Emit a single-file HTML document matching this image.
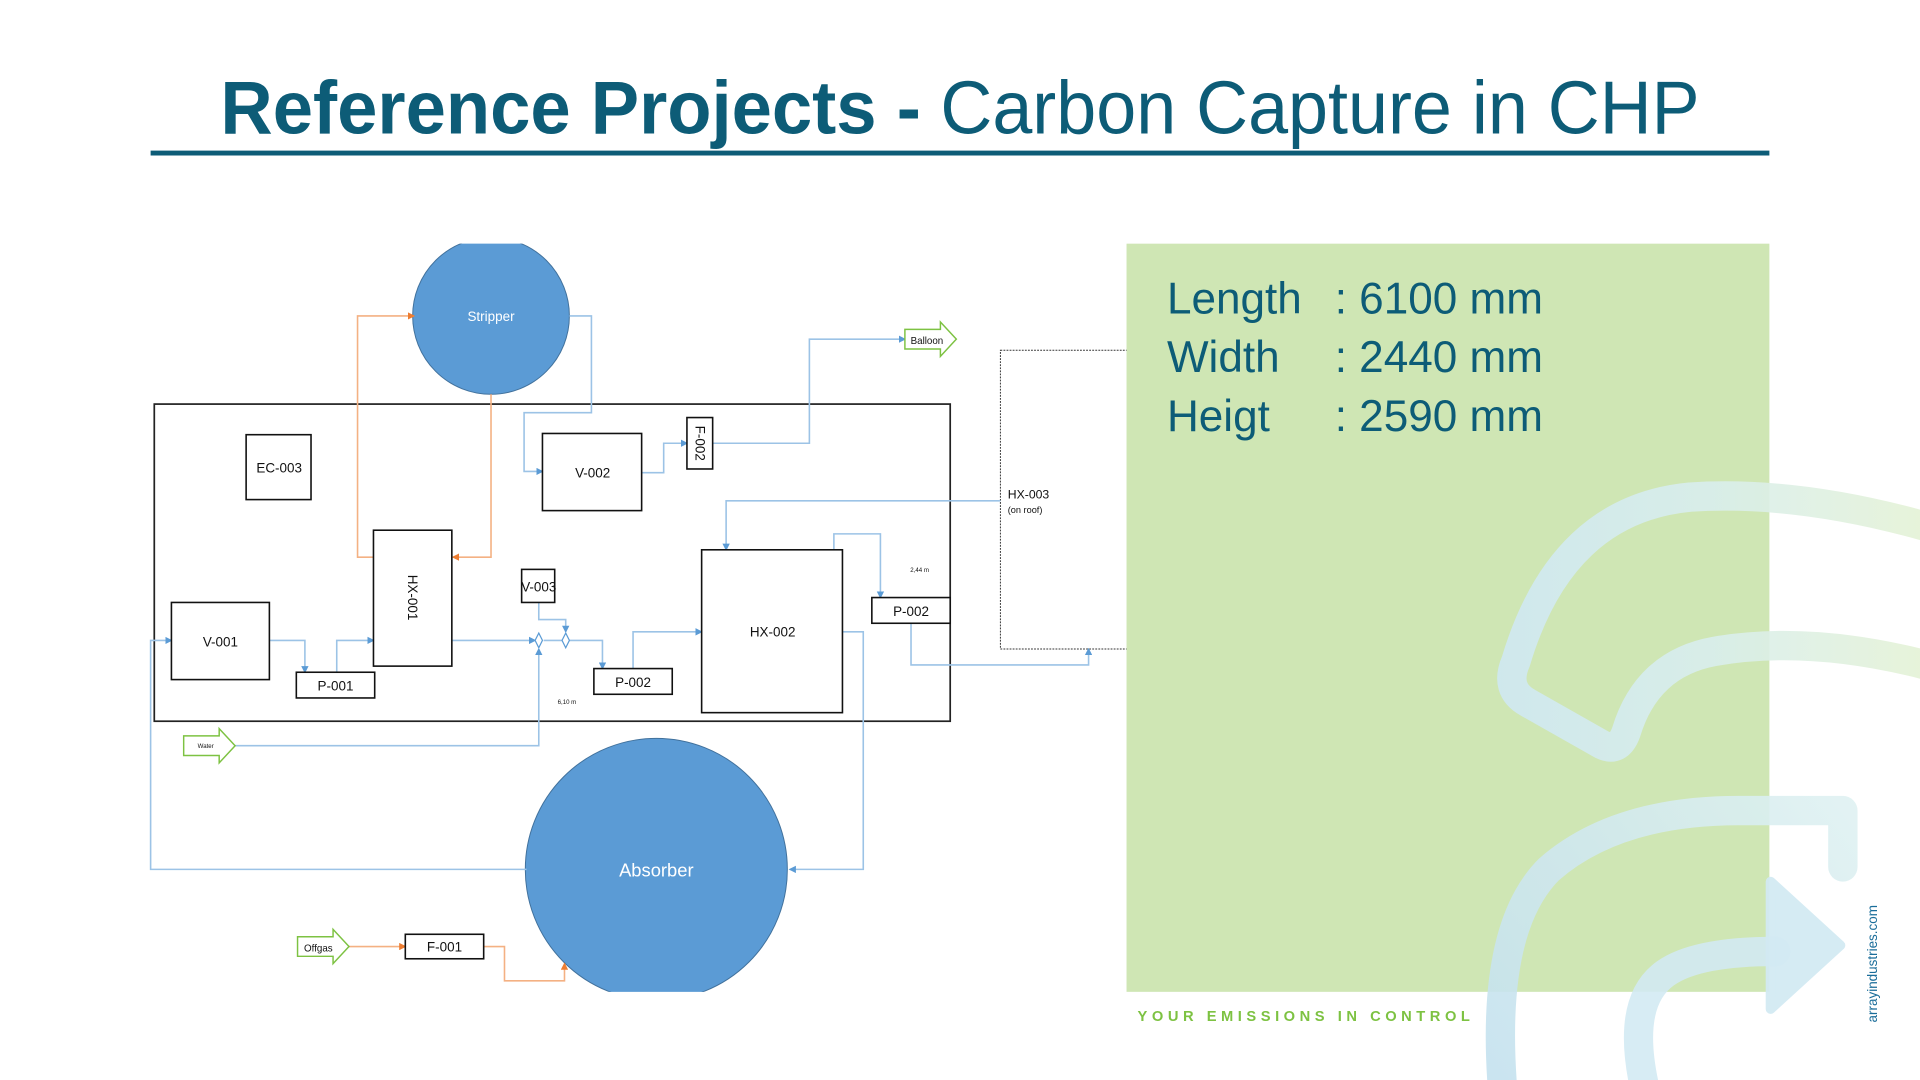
<!DOCTYPE html>
<html><head><meta charset="utf-8"><style>
html,body{margin:0;padding:0;background:#fff;}
svg{display:block;}
</style></head><body>
<svg width="1920" height="1080" viewBox="0 0 1568 882" xmlns="http://www.w3.org/2000/svg" font-family="Liberation Sans, sans-serif">
<defs>
<marker id="ab" markerWidth="6" markerHeight="6" refX="5" refY="3" orient="auto" markerUnits="userSpaceOnUse"><path d="M0,0 L6,3 L0,6 z" fill="#5b9bd5"/></marker>
<marker id="ao" markerWidth="6" markerHeight="6" refX="5" refY="3" orient="auto" markerUnits="userSpaceOnUse"><path d="M0,0 L6,3 L0,6 z" fill="#ed7d31"/></marker>
<clipPath id="cl"><rect x="0" y="199" width="920" height="611"/></clipPath>
<linearGradient id="sw" x1="1220" y1="0" x2="1568" y2="0" gradientUnits="userSpaceOnUse">
<stop offset="0" stop-color="#cfe8f3"/><stop offset="0.5" stop-color="#d9eeee"/><stop offset="1" stop-color="#e4f2d6"/></linearGradient>
<linearGradient id="sw2" x1="1220" y1="882" x2="1520" y2="650" gradientUnits="userSpaceOnUse">
<stop offset="0" stop-color="#c4e1ee"/><stop offset="1" stop-color="#e0f2f2"/></linearGradient>
</defs>
<rect width="1568" height="882" fill="#fff"/>
<!-- Title -->
<text x="180" y="109" font-size="61" font-weight="bold" fill="#0d5c77" textLength="572" lengthAdjust="spacingAndGlyphs">Reference Projects -</text>
<text x="768" y="109" font-size="61" fill="#0d5c77" textLength="620" lengthAdjust="spacingAndGlyphs">Carbon Capture in CHP</text>
<rect x="123" y="123" width="1322" height="4" fill="#0d5c77"/>

<!-- green panel -->
<rect x="920" y="199" width="525" height="611" fill="#cfe6b4"/>
<g font-size="36" fill="#0d5c77">
<text x="953" y="256">Length</text><text x="1090" y="256">: 6100 mm</text>
<text x="953" y="304">Width</text><text x="1090" y="304">: 2440 mm</text>
<text x="953" y="352">Heigt</text><text x="1090" y="352">: 2590 mm</text>
</g>
<text x="929" y="834" font-size="12" font-weight="bold" fill="#7dc242" letter-spacing="3.7">YOUR EMISSIONS IN CONTROL</text>
<text transform="translate(1533,835) rotate(-90)" font-size="11" fill="#1a6d9a">arrayindustries.com</text>

<!-- decorative swooshes -->
<g fill="none" stroke-width="24" stroke-linecap="round" stroke-linejoin="round" opacity="0.9">
<path stroke="url(#sw)" d="M1580 432 Q1470 400 1380 406 Q1275 416 1238 540 Q1228 563 1248 574 L1308 608 Q1322 615 1328 598 Q1345 542 1400 532 Q1480 518 1580 545"/>
<path stroke="url(#sw2)" d="M1228 900 Q1215 760 1265 710 Q1320 662 1420 662 L1505 662 L1505 708"/>
<path stroke="#d3eaf3" d="M1346 900 Q1325 820 1360 795 Q1385 777 1450 777"/>
</g>
<path d="M1446 720 L1503 772 L1446 824 Z" fill="#d3eaf3" stroke="#d3eaf3" stroke-width="8" stroke-linejoin="round" opacity="0.95"/>

<!-- diagram -->
<g clip-path="url(#cl)">
<rect x="817" y="286" width="120" height="244" fill="none" stroke="#333" stroke-width="0.8" stroke-dasharray="1.5,1"/>
<ellipse cx="401" cy="258" rx="64" ry="64" fill="#5b9bd5" stroke="#41719c" stroke-width="0.8"/>
<ellipse cx="536" cy="710" rx="107" ry="107" fill="#5b9bd5" stroke="#41719c" stroke-width="0.8"/>
<rect x="126" y="330" width="650" height="259" fill="none" stroke="#222" stroke-width="1.4"/>

<g fill="none" stroke="#9cc3e6" stroke-width="1.3">
<path d="M465 258 H483 V337 H428 V385 H443" marker-end="url(#ab)"/>
<path d="M524 386 H542 V362 H561" marker-end="url(#ab)"/>
<path d="M582 362 H661 V277 H739" marker-end="url(#ab)"/>
<path d="M817 409 H593 V449" marker-end="url(#ab)"/>
<path d="M681 449 V436 H719 V488" marker-end="url(#ab)"/>
<path d="M744 509 V543 H889 V530" marker-end="url(#ab)"/>
<path d="M220 523 H249 V549" marker-end="url(#ab)"/>
<path d="M275 549 V523 H305" marker-end="url(#ab)"/>
<path d="M369 523 H437" marker-end="url(#ab)"/>
<path d="M444 523 H492 V546" marker-end="url(#ab)"/>
<path d="M440 492 V506 H462 V516" marker-end="url(#ab)"/>
<path d="M192 609 H440 V530" marker-end="url(#ab)"/>
<path d="M517 546 V516 H573" marker-end="url(#ab)"/>
<path d="M688 516 H705 V710 H645" marker-end="url(#ab)"/>
<path d="M430 710 H123 V523 H140" marker-end="url(#ab)"/>
</g>
<path d="M440 517 L443 523 L440 529 L437 523 Z M462 517 L465 523 L462 529 L459 523 Z" fill="#fff" stroke="#5b9bd5" stroke-width="1"/>
<g fill="none" stroke="#f4b183" stroke-width="1.3">
<path d="M305 455 H292 V258 H338" marker-end="url(#ao)"/>
<path d="M401 322 V455 H370" marker-end="url(#ao)"/>
<path d="M395 773 H412 V801 H461 V787" marker-end="url(#ao)"/>
<path d="M285 773 H331" marker-end="url(#ao)"/>
</g>

<g fill="#fff" stroke="#111" stroke-width="1.3">
<rect x="201" y="355" width="53" height="53"/>
<rect x="443" y="354" width="81" height="63"/>
<rect x="561" y="341" width="21" height="42"/>
<rect x="305" y="433" width="64" height="111"/>
<rect x="140" y="492" width="80" height="63"/>
<rect x="242" y="549" width="64" height="21"/>
<rect x="426" y="465" width="27" height="27"/>
<rect x="485" y="546" width="64" height="21"/>
<rect x="573" y="449" width="115" height="133"/>
<rect x="712" y="488" width="64" height="21"/>
<rect x="331" y="763" width="64" height="20"/>
</g>
<g fill="#fff" stroke="#7dc242" stroke-width="1.2">
<path d="M739 269 H768 V263 L781 277 L768 291 V285 H739 Z"/>
<path d="M150 601 H179 V595 L192 609 L179 623 V617 H150 Z"/>
<path d="M243 765 H272 V759 L285 773 L272 787 V781 H243 Z"/>
</g>
<g font-size="11" fill="#111" text-anchor="middle">
<text x="228" y="386">EC-003</text>
<text x="484" y="390">V-002</text>
<text x="180" y="528">V-001</text>
<text x="274" y="564">P-001</text>
<text x="440" y="483">V-003</text>
<text x="517" y="561">P-002</text>
<text x="631" y="520">HX-002</text>
<text x="744" y="503">P-002</text>
<text x="363" y="777">F-001</text>
<text transform="translate(568,362) rotate(90)">F-002</text>
<text transform="translate(333,488) rotate(90)">HX-001</text>
<text x="757" y="281" font-size="8">Balloon</text>
<text x="168" y="611" font-size="5">Water</text>
<text x="260" y="777" font-size="8">Offgas</text>
<text x="751" y="467" font-size="5">2,44 m</text>
<text x="463" y="575" font-size="5">6,10 m</text>
</g>
<text x="823" y="407" font-size="10" fill="#111">HX-003</text>
<text x="823" y="419" font-size="7.5" fill="#111">(on roof)</text>
<text x="401" y="262" font-size="11" fill="#fff" text-anchor="middle">Stripper</text>
<text x="536" y="716" font-size="15" fill="#fff" text-anchor="middle">Absorber</text>
</g>
</svg>
</body></html>
